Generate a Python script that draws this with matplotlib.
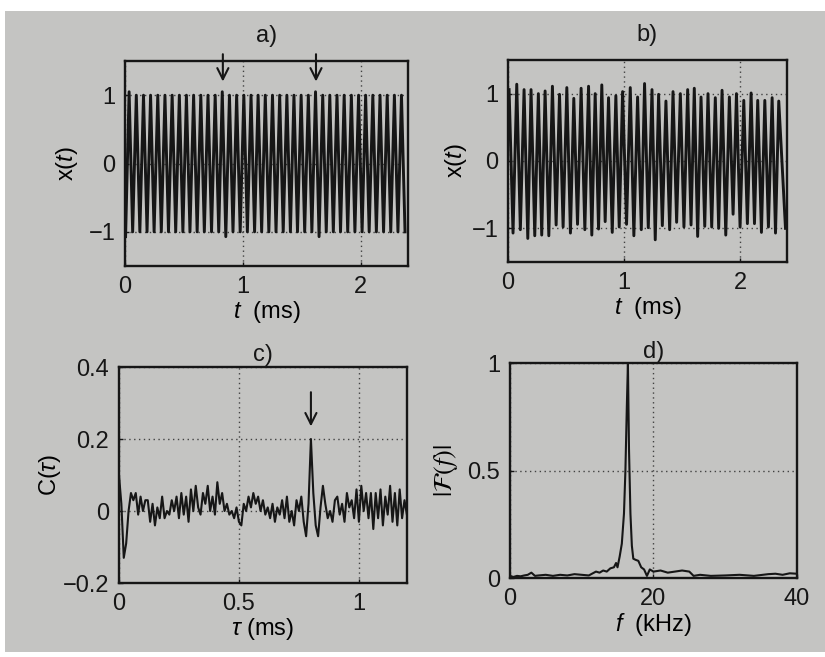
import numpy as np
import matplotlib
matplotlib.use("Agg")
import matplotlib.pyplot as plt
from matplotlib.patches import Rectangle

plt.rcParams['font.family'] = ['Liberation Sans', 'DejaVu Sans']
plt.rcParams['mathtext.fontset'] = 'custom'
plt.rcParams['mathtext.rm'] = 'Liberation Sans'
plt.rcParams['mathtext.it'] = 'Liberation Sans:italic'
plt.rcParams['font.size'] = 17

# ---- data ----
# a) regular oscillation: peak / trough times (ms) and values
a_peak_t = [0.035, 0.096, 0.157, 0.217, 0.278, 0.339, 0.400, 0.461, 0.521, 0.582,
            0.643, 0.704, 0.765, 0.825, 0.886, 0.947, 1.008, 1.069, 1.129, 1.190,
            1.251, 1.312, 1.373, 1.433, 1.494, 1.555, 1.616, 1.677, 1.737, 1.798,
            1.859, 1.920, 1.981, 2.041, 2.102, 2.163, 2.224, 2.285, 2.345]
a_peak_x = [1.05, 1.0, 1.0, 1.0, 1.0, 1.0, 1.0, 1.0, 1.0, 1.0,
            1.0, 1.0, 1.0, 1.05, 1.0, 1.0, 1.0, 1.0, 1.0, 1.0,
            1.0, 1.0, 1.0, 1.0, 1.0, 1.0, 1.05, 1.0, 1.0, 1.0,
            1.0, 1.0, 1.0, 1.0, 1.0, 1.0, 1.0, 1.0, 1.0]
a_trough_t = [0.005, 0.065, 0.126, 0.187, 0.247, 0.308, 0.369, 0.430, 0.491, 0.551,
              0.612, 0.673, 0.734, 0.795, 0.855, 0.916, 0.977, 1.038, 1.099, 1.159,
              1.220, 1.281, 1.342, 1.403, 1.463, 1.524, 1.585, 1.646, 1.707, 1.767,
              1.828, 1.889, 1.950, 2.011, 2.071, 2.132, 2.193, 2.254, 2.315, 2.375]
a_trough_x = [-1.07, -1.0, -1.0, -1.0, -1.0, -1.0, -1.0, -1.0, -1.0, -1.0,
              -1.0, -1.0, -1.0, -1.0, -1.07, -1.0, -1.0, -1.0, -1.0, -1.0,
              -1.0, -1.0, -1.0, -1.0, -1.0, -1.0, -1.0, -1.07, -1.0, -1.0,
              -1.0, -1.0, -1.0, -1.0, -1.0, -1.0, -1.0, -1.0, -1.0, -1.0]
a_arrows = [0.83, 1.62]

# b) irregular oscillation
b_peak_t = [0.009, 0.075, 0.138, 0.198, 0.261, 0.319, 0.382, 0.443, 0.506, 0.566,
            0.629, 0.693, 0.750, 0.807, 0.865, 0.928, 0.986, 1.052, 1.115, 1.175,
            1.239, 1.296, 1.359, 1.420, 1.483, 1.546, 1.603, 1.661, 1.721, 1.784,
            1.842, 1.905, 1.966, 2.029, 2.092, 2.149, 2.210, 2.273, 2.330]
b_peak_x = [1.06, 1.14, 1.06, 1.06, 1.00, 1.04, 1.11, 0.99, 1.09, 0.93,
            1.08, 1.11, 1.00, 1.13, 0.94, 0.97, 1.03, 1.09, 0.95, 1.15,
            1.06, 0.99, 0.89, 1.03, 1.00, 1.06, 1.08, 0.95, 1.00, 0.94,
            1.05, 0.95, 1.00, 0.90, 1.01, 0.90, 0.90, 0.94, 0.89]
b_trough_t = [0.043, 0.106, 0.170, 0.230, 0.290, 0.351, 0.414, 0.474, 0.537, 0.598,
              0.661, 0.721, 0.779, 0.836, 0.897, 0.957, 1.020, 1.083, 1.147, 1.207,
              1.267, 1.328, 1.391, 1.451, 1.514, 1.575, 1.632, 1.693, 1.753, 1.813,
              1.874, 1.937, 1.997, 2.060, 2.121, 2.181, 2.241, 2.302, 2.388]
b_trough_x = [-1.07, -1.02, -1.15, -1.11, -1.10, -1.11, -0.95, -0.98, -1.07, -0.94,
              -1.02, -1.10, -1.01, -0.90, -1.06, -0.98, -0.94, -1.11, -1.02, -0.99,
              -1.17, -0.96, -1.02, -0.91, -0.98, -0.95, -1.12, -0.97, -0.98, -1.00,
              -1.10, -0.79, -0.98, -0.93, -0.93, -1.06, -0.98, -1.07, -1.00]

# c) autocorrelation C(tau), tau in ms (step 0.01)
c_tau = [round(0.01 * i, 2) for i in range(121)]
c_val = [0.10, 0.02, -0.13, -0.09, 0.00, 0.05, 0.03, 0.05, -0.01, 0.04,
         0.00, 0.03, 0.03, -0.03, 0.02, -0.04, 0.01, -0.02, 0.04, -0.02,
         0.00, -0.01, 0.03, 0.00, 0.04, -0.02, 0.05, -0.01, 0.04, -0.03,
         0.06, 0.00, 0.07, 0.01, -0.01, 0.05, 0.02, 0.07, 0.00, 0.04,
         -0.01, 0.08, 0.02, 0.05, 0.00, 0.02, -0.01, 0.00, -0.02, 0.01,
         -0.03, -0.04, 0.02, 0.00, 0.04, 0.01, 0.05, 0.02, 0.04, 0.00,
         0.03, -0.01, 0.01, -0.02, 0.02, -0.03, 0.01, -0.01, 0.03, -0.02,
         0.04, -0.03, 0.00, -0.04, 0.03, 0.00, 0.04, -0.03, -0.07, 0.02,
         0.20, 0.05, -0.04, -0.07, 0.01, 0.07, 0.02, -0.02, 0.00, -0.03,
         0.03, 0.04, -0.01, 0.02, -0.03, 0.05, 0.01, 0.03, -0.02, 0.06,
         -0.03, 0.07, 0.00, 0.05, -0.02, 0.05, -0.05, 0.05, -0.02, 0.06,
         -0.04, 0.04, -0.01, 0.07, -0.03, 0.05, -0.04, 0.06, -0.02, 0.03,
         -0.01]
c_arrow = 0.80

# d) spectrum |F(f)|, f in kHz
d_f = [0, 0.5, 1, 1.5, 2, 2.5, 3, 3.5, 4, 5, 6, 7, 8, 9, 10, 11, 12, 12.5, 13,
       13.5, 14, 14.5, 14.8, 15.0, 15.3, 15.6, 15.9, 16.1, 16.3, 16.45, 16.6,
       16.8, 17.0, 17.2, 17.5, 17.9, 18.3, 18.7, 19.1, 19.5, 20, 21, 22, 23,
       24, 25, 25.6, 26.5, 28, 30, 32, 34, 36, 37, 38, 39, 40]
d_amp = [0.01, 0.005, 0.01, 0.008, 0.012, 0.015, 0.025, 0.01, 0.012, 0.015,
         0.01, 0.015, 0.012, 0.018, 0.015, 0.012, 0.03, 0.025, 0.035, 0.03,
         0.045, 0.05, 0.07, 0.05, 0.10, 0.16, 0.30, 0.50, 0.80, 1.0, 0.60,
         0.30, 0.15, 0.09, 0.085, 0.08, 0.05, 0.04, 0.01, 0.04, 0.03, 0.035,
         0.025, 0.03, 0.035, 0.03, 0.01, 0.015, 0.01, 0.012, 0.015, 0.01,
         0.018, 0.02, 0.015, 0.022, 0.02]

bg = '#c4c4c2'
ink = '#161616'


def zigzag(t_low, x_low, t_high, x_high):
    t = np.empty(len(t_low) + len(t_high))
    x = np.empty_like(t)
    t[0::2], x[0::2] = t_low, x_low
    t[1::2], x[1::2] = t_high, x_high
    return t, x


def style(ax, title, tpad):
    ax.set_facecolor(bg)
    for s in ax.spines.values():
        s.set_linewidth(1.7)
        s.set_color(ink)
    ax.tick_params(direction='in', length=3, width=1, colors=ink, pad=7)
    ax.grid(True, linestyle=(0, (1, 2.5)), color=ink, linewidth=1.0, alpha=0.75)
    ax.set_title(title, fontsize=17, pad=tpad, color=ink)


fig = plt.figure(figsize=(8.25, 6.57), dpi=100)
fig.patch.set_facecolor('white')
fig.patches.append(Rectangle((0.006, 0.008), 0.994, 0.975, transform=fig.transFigure,
                             facecolor=bg, edgecolor='none', zorder=-10))

# a)
ax = fig.add_axes([0.1515, 0.5951, 0.343, 0.312])
style(ax, 'a)', 14)
t, x = zigzag(a_trough_t, a_trough_x, a_peak_t, a_peak_x)
ax.plot(t, x, color=ink, lw=2.1)
ax.set_xlim(0, 2.4)
ax.set_ylim(-1.5, 1.5)
ax.set_xticks([0, 1, 2])
ax.set_yticks([-1, 0, 1])
ax.set_xlabel('$t$  (ms)', labelpad=1)
ax.set_ylabel('x($t$)', labelpad=6)
for ta in a_arrows:
    ax.annotate('', xy=(ta, 1.2), xytext=(ta, 1.6), annotation_clip=False,
                arrowprops=dict(arrowstyle='->', lw=1.5, color=ink,
                                mutation_scale=20, shrinkA=0, shrinkB=0))

# b)
ax = fig.add_axes([0.6158, 0.6012, 0.338, 0.3075])
style(ax, 'b)', 14)
t, x = zigzag(b_peak_t, b_peak_x, b_trough_t, b_trough_x)
ax.plot(t, x, color=ink, lw=2.1)
ax.set_xlim(0, 2.4)
ax.set_ylim(-1.5, 1.5)
ax.set_xticks([0, 1, 2])
ax.set_yticks([-1, 0, 1])
ax.set_xlabel('$t$  (ms)', labelpad=1)
ax.set_ylabel('x($t$)', labelpad=2)

# c)
ax = fig.add_axes([0.1442, 0.1126, 0.349, 0.3288])
style(ax, 'c)', 4)
ax.plot(c_tau, c_val, color=ink, lw=1.5)
ax.set_xlim(0, 1.2)
ax.set_ylim(-0.2, 0.4)
ax.set_xticks([0, 0.5, 1])
ax.set_xticklabels(['0', '0.5', '1'])
ax.set_yticks([-0.2, 0, 0.2, 0.4])
ax.set_yticklabels(['\u22120.2', '0', '0.2', '0.4'])
ax.set_xlabel(r'$\tau$ (ms)', labelpad=1)
ax.set_ylabel(r'C($\tau$)', labelpad=0)
ax.annotate('', xy=(c_arrow, 0.235), xytext=(c_arrow, 0.33),
            arrowprops=dict(arrowstyle='->', lw=1.5, color=ink,
                            mutation_scale=20, shrinkA=0, shrinkB=0))

# d)
ax = fig.add_axes([0.618, 0.1202, 0.348, 0.327])
style(ax, 'd)', 2)
ax.plot(d_f, d_amp, color=ink, lw=1.5)
ax.set_xlim(0, 40)
ax.set_ylim(0, 1)
ax.set_xticks([0, 20, 40])
ax.set_yticks([0, 0.5, 1])
ax.set_yticklabels(['0', '0.5', '1'])
ax.set_xlabel('$f$  (kHz)', labelpad=1)
ax.set_ylabel(r'$|\mathcal{F}(f)|$', math_fontfamily='stix', fontsize=19, labelpad=5)

fig.savefig('out.png', dpi=100, facecolor=fig.get_facecolor())
